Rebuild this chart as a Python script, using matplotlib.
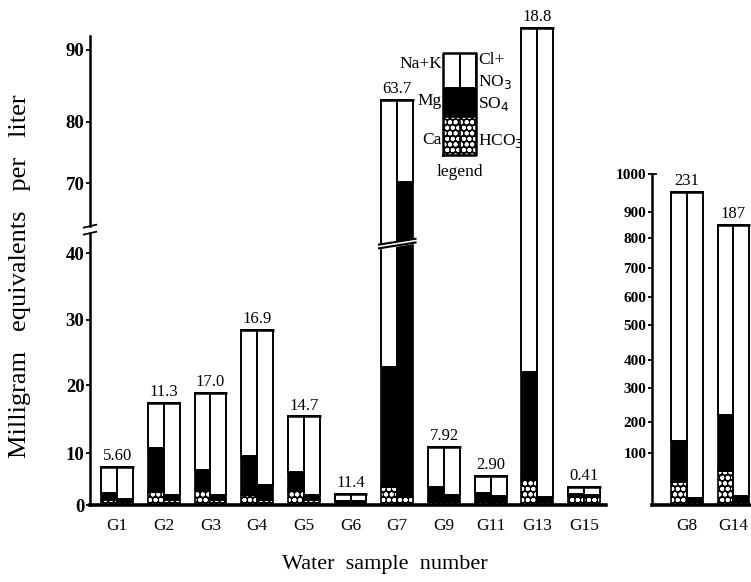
import numpy as np
import matplotlib
matplotlib.use('Agg')
import matplotlib.pyplot as plt

plt.rcParams['font.family'] = ['Liberation Serif', 'DejaVu Serif']
plt.rcParams['hatch.linewidth'] = 1.3

############### data (meq/L)
samples = ['G1', 'G2', 'G3', 'G4', 'G5', 'G6', 'G7', 'G9', 'G11', 'G13', 'G15']
ca = [1.0, 2.5, 2.9, 1.9, 2.9, 0.3, 3.5, 0.8, 0.5, 4.8, 1.8]
mg = [1.3, 8.2, 3.8, 7.5, 3.4, 0.4, 19.3, 2.7, 1.8, 17.2, 0.3]
na_k = [5.0, 6.7, 12.1, 19.1, 9.1, 1.5, 60.3, 7.4, 3.3, 71.1, 1.4]
hco3 = [0.6, 1.0, 1.0, 1.0, 1.0, 0.4, 1.5, 0.6, 0.5, 0.6, 1.6]
so4 = [0.6, 1.0, 0.9, 2.8, 0.9, 0.3, 68.6, 1.3, 1.2, 0.9, 0.4]
cl_no3 = [6.1, 15.4, 16.9, 24.7, 13.5, 1.5, 13.0, 9.0, 3.9, 91.6, 1.5]
top_labels = ['5.60', '11.3', '17.0', '16.9', '14.7', '11.4', '63.7', '7.92', '2.90', '18.8', '0.41']

samples_r = ['G8', 'G14']
ca_r = [45, 65]
mg_r = [95, 155]
na_k_r = [813, 630]
hco3_r = [5, 5]
so4_r = [8, 12]
cl_no3_r = [940, 833]
top_labels_r = ['231', '187']

left_ticks = [0, 10, 20, 30, 40, 70, 80, 90]
right_ticks = [100, 200, 300, 400, 500, 600, 700, 800, 900, 1000]

############### broken / uneven axes of the scanned original (value -> pixel height)
lv = [-100, 0, 10, 20, 30, 40, 70, 80, 90, 200]
lp = [-520, 0, 52, 120, 185, 252, 322, 383, 455, 1247]
rv = [-1000, 0, 100, 200, 300, 400, 500, 600, 700, 800, 900, 1000, 2000]
rp = [-520, 0, 52, 83, 117, 145, 180, 208, 237, 267, 293, 331, 641]


def lfwd(v):
    return np.interp(v, lv, lp)


def linv(p):
    return np.interp(p, lp, lv)


def rfwd(v):
    return np.interp(v, rv, rp)


def rinv(p):
    return np.interp(p, rp, rv)


W, H = 751, 582
fig = plt.figure(figsize=(W / 100, H / 100), dpi=100)
base_y = 505
ax_h = 487


def fig_box(x0, x1):
    return [x0 / W, 1 - base_y / H, (x1 - x0) / W, ax_h / H]


ax = fig.add_axes(fig_box(90, 606))
axr = fig.add_axes(fig_box(652, 751))

ax.set_yscale('function', functions=(lfwd, linv))
axr.set_yscale('function', functions=(rfwd, rinv))
ax.set_ylim(0, float(linv(ax_h)))
axr.set_ylim(0, float(rinv(ax_h)))

bw = 0.34
speck = dict(facecolor='black', edgecolor='white', hatch='ooo', linewidth=0)
solid = dict(facecolor='black', edgecolor='black', linewidth=1.2)
blank = dict(facecolor='white', edgecolor='black', linewidth=1.4)
frame = dict(facecolor='none', edgecolor='black', linewidth=1.2)


def draw_pairs(a, x, c1, c2, c3, a1, a2, a3, labels):
    c1, c2, c3 = np.array(c1, float), np.array(c2, float), np.array(c3, float)
    a1, a2, a3 = np.array(a1, float), np.array(a2, float), np.array(a3, float)
    xl = x - bw / 2
    xr = x + bw / 2
    a.bar(xl, c1, bw, **speck)
    a.bar(xl, c1, bw, **frame)
    a.bar(xl, c2, bw, bottom=c1, **solid)
    a.bar(xl, c3, bw, bottom=c1 + c2, **blank)
    a.bar(xr, a1, bw, **speck)
    a.bar(xr, a1, bw, **frame)
    a.bar(xr, a2, bw, bottom=a1, **solid)
    a.bar(xr, a3, bw, bottom=a1 + a2, **blank)
    tot = c1 + c2 + c3
    for xi, t, s in zip(x, tot, labels):
        a.plot([xi - bw * 1.05, xi + bw * 1.05], [t, t], color='black', lw=1.8,
               solid_capstyle='butt')
        a.annotate(s, (xi, t), xytext=(0, 2), textcoords='offset points',
                   ha='center', va='bottom', fontsize=12)
    return tot


x = np.arange(len(samples))
draw_pairs(ax, x, ca, mg, na_k, hco3, so4, cl_no3, top_labels)
xr_ = np.arange(len(samples_r))
draw_pairs(axr, xr_, ca_r, mg_r, na_k_r, hco3_r, so4_r, cl_no3_r, top_labels_r)

ax.set_xlim(-0.58, 10.47)
axr.set_xlim(-0.75, 1.38)

for a in (ax, axr):
    for s in ('top', 'right'):
        a.spines[s].set_visible(False)
    a.spines['bottom'].set_linewidth(2.6)
    a.spines['left'].set_linewidth(1.8)
    a.tick_params(axis='y', direction='out', length=3, width=1.3, pad=1)
    a.tick_params(axis='x', length=0, pad=9, labelsize=12.5)
    a.patch.set_alpha(0)

ax.set_xticks(x)
ax.set_xticklabels(samples)
axr.set_xticks(xr_)
axr.set_xticklabels(samples_r)

ax.set_yticks(left_ticks)
ax.set_yticklabels([str(t) for t in left_ticks], fontsize=13.5, fontweight='bold')
axr.set_yticks(right_ticks)
axr.set_yticklabels([str(t) for t in right_ticks], fontsize=11, fontweight='bold')
axr.spines['left'].set_bounds(0, 1000)
axr.plot([0, 0.04], [1000, 1000], transform=axr.get_yaxis_transform(),
         color='black', lw=1.3, clip_on=False)

# left axis drawn in two pieces with a break mark
ax.spines['left'].set_visible(False)
ytr = ax.get_yaxis_transform()
ax.plot([0, 0], [0, 48.5], transform=ytr, color='black', lw=1.8, clip_on=False)
ax.plot([0, 0], [51.5, 92], transform=ytr, color='black', lw=1.8, clip_on=False)
for yb in (48.5, 51.5):
    ax.plot([-0.012, 0.012], [yb - 0.6, yb + 0.6], transform=ytr, color='black',
            lw=1.3, clip_on=False)

# break across the G7 pair
g7 = samples.index('G7')
ax.fill_between([g7 - bw * 1.15, g7 + bw * 1.15], [42.0, 44.5], [43.6, 46.1],
                color='white', zorder=5)
ax.plot([g7 - bw * 1.15, g7 + bw * 1.15], [42.0, 44.5], color='black', lw=1.5, zorder=6)
ax.plot([g7 - bw * 1.15, g7 + bw * 1.15], [43.6, 46.1], color='black', lw=1.5, zorder=6)

ax.set_ylabel('Milligram   equivalents   per   liter', fontsize=19, labelpad=10)
ax.yaxis.set_label_coords(-0.115, 0.47)
fig.text(385 / W, 1 - 565 / H, 'Water  sample  number', fontsize=16,
         ha='center', va='center')

############### legend box
lg = fig.add_axes([443 / W, 1 - 155 / H, 33 / W, 102 / H])
lg.set_xlim(0, 2)
lg.set_ylim(0, 102)
lg.axis('off')
for xc in (0.5, 1.5):
    lg.bar(xc, 38, 1, **speck)
    lg.bar(xc, 29, 1, bottom=38, **solid)
    lg.bar(xc, 35, 1, bottom=67, **blank)
lg.plot([1, 1], [0, 102], color='black', lw=1.2)
lg.plot([0, 2, 2, 0, 0], [0, 0, 102, 102, 0], color='black', lw=1.8, clip_on=False)

fs = 12.5
fig.text(442 / W, 1 - 64 / H, 'Na+K', ha='right', va='center', fontsize=fs)
fig.text(442 / W, 1 - 101 / H, 'Mg', ha='right', va='center', fontsize=fs)
fig.text(442 / W, 1 - 140 / H, 'Ca', ha='right', va='center', fontsize=fs)
fig.text(478 / W, 1 - 60 / H, 'Cl+', ha='left', va='center', fontsize=fs)
fig.text(478 / W, 1 - 82 / H, 'NO$_3$', ha='left', va='center', fontsize=fs)
fig.text(478 / W, 1 - 104 / H, 'SO$_4$', ha='left', va='center', fontsize=fs)
fig.text(478 / W, 1 - 141 / H, 'HCO$_3$', ha='left', va='center', fontsize=fs)
fig.text(460 / W, 1 - 172 / H, 'legend', ha='center', va='center', fontsize=fs)

plt.savefig('out.png', dpi=100)
